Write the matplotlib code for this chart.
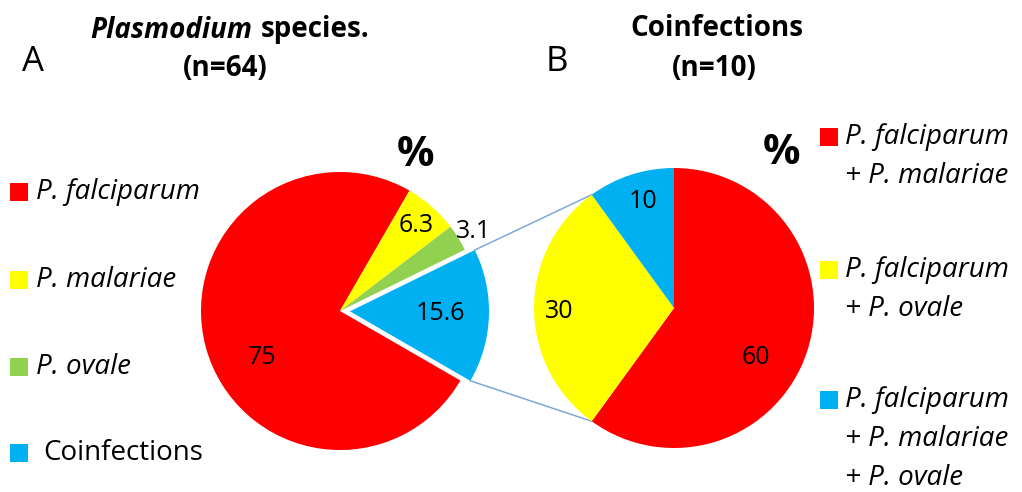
import matplotlib
matplotlib.use("Agg")
import matplotlib.pyplot as plt
import numpy as np

plt.rcParams['font.family'] = ['Open Sans', 'DejaVu Sans']

# ---- data ----
species_labels = ["P. falciparum", "P. malariae", "P. ovale", "Coinfections"]
species_values = [75, 6.3, 3.1, 15.6]
species_colors = ["#FF0000", "#FFFF00", "#92D050", "#00B0F0"]

coinf_labels = ["P. falciparum\n+ P. malariae",
                "P. falciparum\n+ P. ovale",
                "P. falciparum\n+ P. malariae\n+ P. ovale"]
coinf_values = [60, 30, 10]
coinf_colors = ["#FF0000", "#FFFF00", "#00B0F0"]

W, H = 1022, 492
fig = plt.figure(figsize=(W / 100, H / 100), dpi=100)
ax = fig.add_axes([0, 0, 1, 1])

def Y(y):
    return H - y

# ---- pie A ----
cA = (340, Y(311))
rA = 139
wedgesA, _ = ax.pie(species_values, colors=species_colors, center=cA, radius=rA,
                    startangle=-30, counterclock=False,
                    explode=[0, 0, 0, 10], frame=True)
# ---- pie B ----
cB = (674, Y(308))
rB = 140
wedgesB, _ = ax.pie(coinf_values, colors=coinf_colors, center=cB, radius=rB,
                    startangle=90, counterclock=False, frame=True)
ax.set_xlim(0, W)
ax.set_ylim(0, H)
ax.set_aspect('equal')
ax.axis('off')

# value labels
num_fs = 18
lblA_pos = [(262, 358), (416, 225), (474, 231), (440, 313)]
for v, (x, y) in zip(species_values, lblA_pos):
    ax.text(x, Y(y), f"{v:g}", ha='center', va='center', fontsize=num_fs, color='black')
lblB_pos = [(756, 357), (559, 311), (643, 202)]
for v, (x, y) in zip(coinf_values, lblB_pos):
    ax.text(x, Y(y), f"{v:g}", ha='center', va='center', fontsize=num_fs, color='black')

# connection lines between exploded wedge (A) and pie B
blue = wedgesA[3]
bc = blue.center
tA = sorted([blue.theta1, blue.theta2])
pA_bot = (bc[0] + rA * np.cos(np.radians(tA[0])), bc[1] + rA * np.sin(np.radians(tA[0])))
pA_top = (bc[0] + rA * np.cos(np.radians(tA[1])), bc[1] + rA * np.sin(np.radians(tA[1])))
yel = wedgesB[1]
tB = sorted([yel.theta1 % 360, yel.theta2 % 360])
pB_top = (cB[0] + rB * np.cos(np.radians(tB[0])), cB[1] + rB * np.sin(np.radians(tB[0])))
pB_bot = (cB[0] + rB * np.cos(np.radians(tB[1])), cB[1] + rB * np.sin(np.radians(tB[1])))
line_c = "#7FA9D8"
ax.plot([pA_top[0], pB_top[0]], [pA_top[1], pB_top[1]], color=line_c, lw=1.1, zorder=0.5)
ax.plot([pA_bot[0], pB_bot[0]], [pA_bot[1], pB_bot[1]], color=line_c, lw=1.1, zorder=0.5)

# percent signs
ax.text(415, Y(156), "%", ha='center', va='center', fontsize=30, fontweight='bold')
ax.text(781, Y(154), "%", ha='center', va='center', fontsize=30, fontweight='bold')

# titles
tfs = 20
ax.text(252, Y(30), "Plasmodium", ha='right', va='center', fontsize=tfs,
        fontweight='bold', fontstyle='italic')
ax.text(261, Y(30), "species.", ha='left', va='center', fontsize=tfs, fontweight='bold')
ax.text(225, Y(69), "(n=64)", ha='center', va='center', fontsize=tfs, fontweight='bold')
ax.text(717, Y(28), "Coinfections", ha='center', va='center', fontsize=tfs, fontweight='bold')
ax.text(714, Y(68), "(n=10)", ha='center', va='center', fontsize=tfs, fontweight='bold')
ax.text(33, Y(62), "A", ha='center', va='center', fontsize=25)
ax.text(557, Y(62), "B", ha='center', va='center', fontsize=25)

# left legend
leg_fs = 20
sq = 18
left_y = [192, 280, 367, 453]
for lab, col, y in zip(species_labels, species_colors, left_y):
    ax.add_patch(plt.Rectangle((10, Y(y) - sq / 2), sq, sq, color=col, lw=0))
    italic = lab.startswith("P.")
    ax.text(36 if italic else 43, Y(y), lab, ha='left', va='center', fontsize=leg_fs,
            fontstyle='italic' if italic else 'normal')

# right legend
right_y = [137, 270, 400]
line_gap = 39
for lab, col, y in zip(coinf_labels, coinf_colors, right_y):
    ax.add_patch(plt.Rectangle((820, Y(y) - sq / 2), sq, sq, color=col, lw=0))
    for i, ln in enumerate(lab.split("\n")):
        ax.text(845, Y(y + i * line_gap), ln, ha='left', va='center', fontsize=leg_fs,
                fontstyle='italic')

fig.savefig("out.png", dpi=100)
